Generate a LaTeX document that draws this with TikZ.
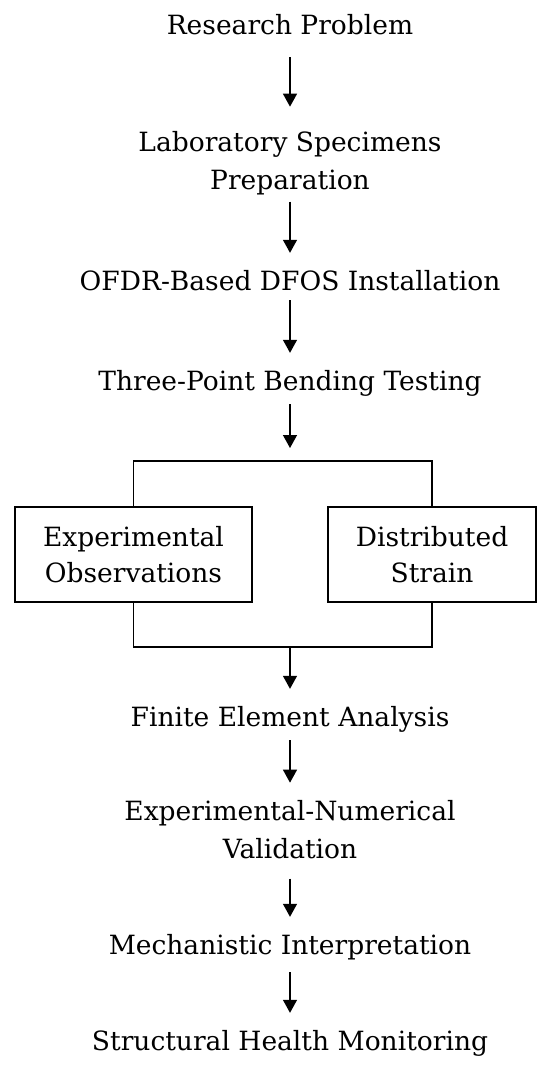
\documentclass[tikz,border=0pt]{standalone}
\usepackage{fontspec}
\setmainfont{DejaVu Serif}
\usetikzlibrary{arrows.meta}

\begin{document}
\begin{tikzpicture}[x=1pt,y=-1pt,
  stage/.style={font=\fontsize{26.5}{38}\selectfont, align=center, inner sep=0pt, anchor=base},
  oneline/.style={font=\fontsize{26.5}{38}\selectfont, inner sep=0pt, anchor=base, text height=20pt, text depth=0pt},
  result/.style={draw, line width=1.3pt, font=\fontsize{26.5}{36}\selectfont, align=center, minimum height=95pt, inner sep=0pt},
  flow/.style={line width=1.3pt, -{Triangle[length=13pt,width=14pt]}, shorten <=14pt, shorten >=17pt},
  bracket/.style={line width=1.3pt}]
\useasboundingbox (0,0) rectangle (550,1079);

%Draw upper stages
\node[oneline] (rp) at (290,34) {Research Problem};
\node[stage] (lsp) at (290,189) {Laboratory Specimens\\Preparation};
\node[oneline] (ofdr) at (290,290) {OFDR-Based DFOS Installation};
\node[oneline] (tpb) at (290,390) {Three-Point Bending Testing};

%Draw the two result boxes
\node[result, minimum width=237pt] (eo) at (133.5,554.5) {Experimental\\Observations};
\node[result, minimum width=208pt] (ds) at (432,554.5) {Distributed\\Strain};
\coordinate (split) at (290,461);
\coordinate (merge) at (290,647);

%Draw lower stages
\node[oneline] (fea) at (290,726) {Finite Element Analysis};
\node[stage] (env) at (290,858) {Experimental-Numerical\\Validation};
\node[oneline] (mi) at (290,954) {Mechanistic Interpretation};
\node[oneline] (shm) at (290,1050) {Structural Health Monitoring};

%Draw arrows
\draw[flow, shorten <=23pt, shorten >=24pt] (rp) -- (lsp);
\draw[flow, shorten <=7pt] (lsp) -- (ofdr);
\draw[flow, shorten <=10pt] (ofdr) -- (tpb);
\draw[flow, shorten >=13pt] (tpb) -- (split);
\draw[flow, shorten <=0pt] (merge) -- (fea);
\draw[flow] (fea) -- (env);
\draw[flow, shorten <=20pt] (env) -- (mi);
\draw[flow, shorten <=18pt] (mi) -- (shm);

%Draw bracket lines
\draw[bracket] (eo.north) |- (split) -| (ds.north);
\draw[bracket] (eo.south) |- (merge) -| (ds.south);
\end{tikzpicture}
\end{document}
